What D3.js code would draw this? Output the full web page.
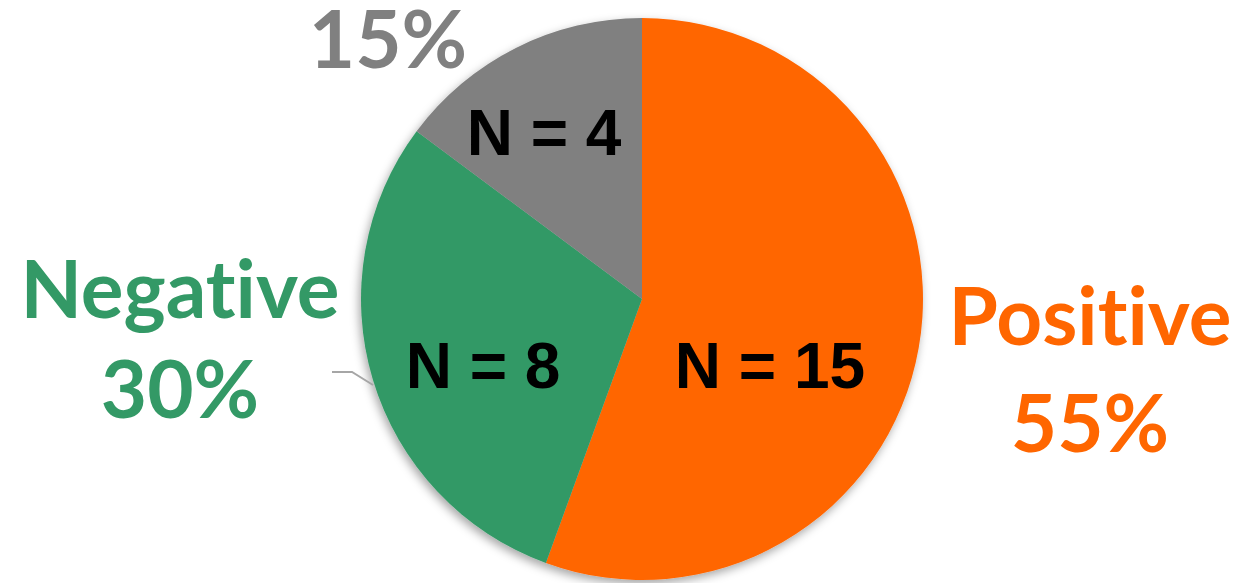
<!DOCTYPE html>
<html>
<head>
<meta charset="utf-8">
<script src="https://cdn.jsdelivr.net/npm/d3@7"></script>
<style>
  body { margin: 0; background: #fff; }
  svg { display: block; }
  text { font-variant-ligatures: none; font-feature-settings: "liga" 0; }
</style>
</head>
<body>
<svg width="1254" height="583"></svg>
<script>
// Data
const categories = ['Positive', 'Negative', 'Neutral'];
const counts = [15, 8, 4];
const percent_labels = ['55%', '30%', '15%'];
const colors = ['#FF6600', '#339966', '#808080'];

// Layout
const svg = d3.select('svg');
const cx = 642, cy = 299, radius = 281;
const cat_font = 'Lato, "Open Sans", sans-serif';
const n_font = '"Liberation Sans", Arial, sans-serif';

const defs = svg.append('defs');
const shadow = defs.append('filter')
    .attr('id', 'shadow')
    .attr('x', '-20%').attr('y', '-20%')
    .attr('width', '140%').attr('height', '140%');
shadow.append('feDropShadow')
    .attr('dx', -2).attr('dy', 4)
    .attr('stdDeviation', 5)
    .attr('flood-color', '#000')
    .attr('flood-opacity', 0.35);

const pie = d3.pie().sort(null).value(d => d)(counts);
const arc = d3.arc().innerRadius(0).outerRadius(radius);

const g = svg.append('g')
    .attr('transform', `translate(${cx}, ${cy})`);

g.append('g')
    .attr('filter', 'url(#shadow)')
    .selectAll('path')
    .data(pie)
    .enter()
    .append('path')
    .attr('d', arc)
    .attr('fill', (d, i) => colors[i]);

// N = labels inside slices (offsets from pie centre)
const n_pos = [[128, 89], [-159, 89], [-98, -144]];
g.selectAll('.n-label')
    .data(counts)
    .enter()
    .append('text')
    .attr('class', 'n-label')
    .attr('x', (d, i) => n_pos[i][0])
    .attr('y', (d, i) => n_pos[i][1])
    .attr('text-anchor', 'middle')
    .attr('font-family', n_font)
    .attr('font-weight', 'bold')
    .attr('font-size', '64px')
    .attr('fill', '#000')
    .text(d => 'N = ' + d);

// Leader line for the Negative label
svg.append('polyline')
    .attr('points', '332,372 352,372 373,385')
    .attr('fill', 'none')
    .attr('stroke', '#A6A6A6')
    .attr('stroke-width', 2);

// Outside category / percent labels
const outer = [
    { x: 1090, y1: 345, y2: 452, name: true },
    { x: 180, y1: 318, y2: 418, name: true },
    { x: 388, y1: null, y2: 68, name: false }
];
outer.forEach((o, i) => {
    if (o.name) {
        svg.append('text')
            .attr('x', o.x)
            .attr('y', o.y1)
            .attr('text-anchor', 'middle')
            .attr('font-family', cat_font)
            .attr('font-weight', 'bold')
            .attr('font-size', '80px')
            .attr('fill', colors[i])
            .text(categories[i]);
    }
    svg.append('text')
        .attr('x', o.x)
        .attr('y', o.y2)
        .attr('text-anchor', 'middle')
        .attr('font-family', cat_font)
        .attr('font-weight', 'bold')
        .attr('font-size', '80px')
        .attr('fill', colors[i])
        .text(percent_labels[i]);
});
</script>
</body>
</html>
